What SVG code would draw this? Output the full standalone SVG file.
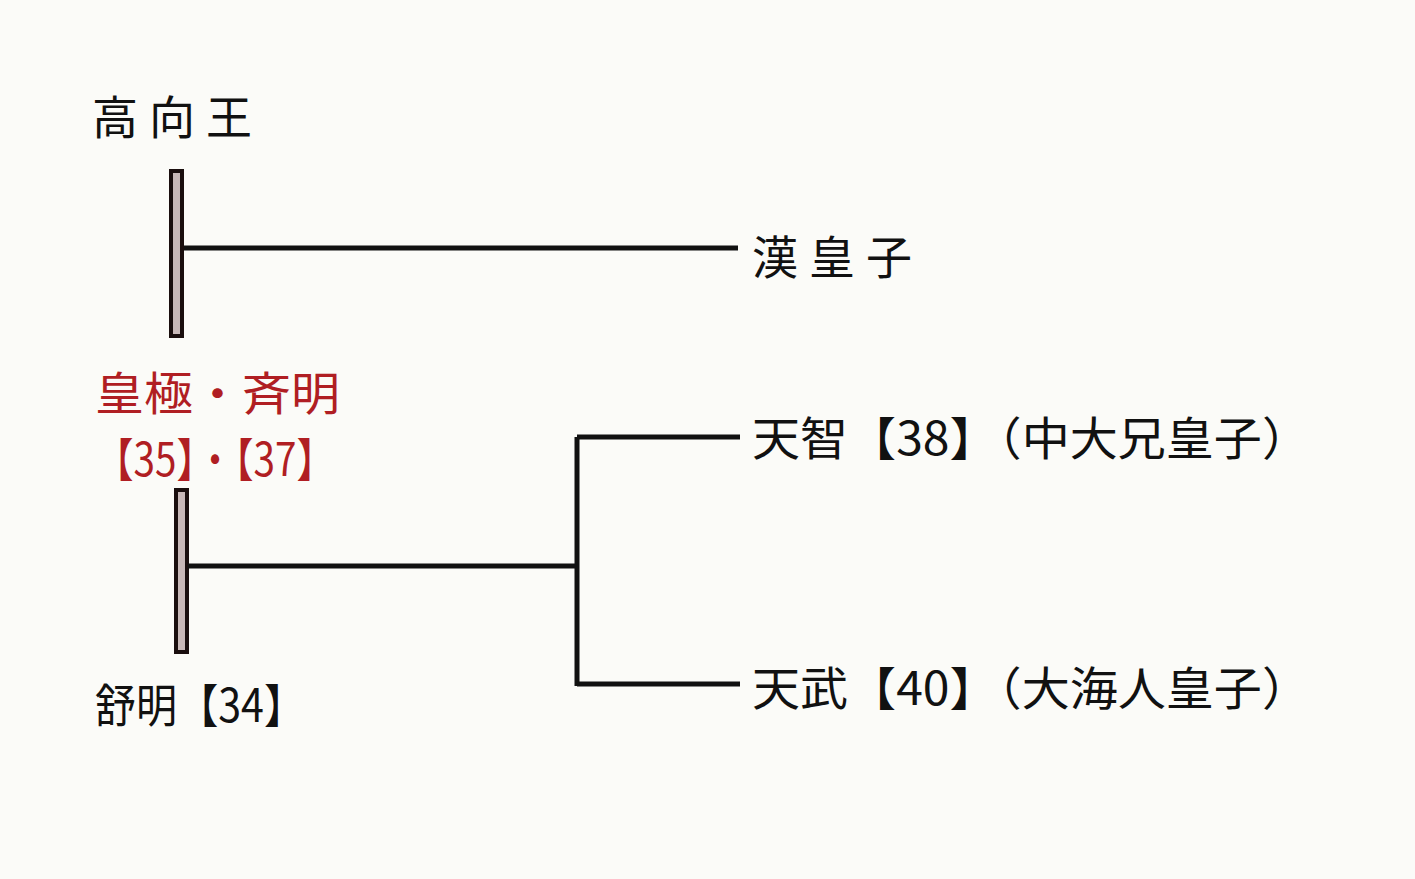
<svg xmlns="http://www.w3.org/2000/svg" width="1415" height="879" viewBox="0 0 1415 879">
<style>
text{font-family:"Noto Sans CJK JP","Noto Sans CJK SC",sans-serif;font-size:46px;fill:#111}
.red{fill:#b01e23}
.bar{fill:#c8b8b8;stroke:#1a0e0e;stroke-width:4}
.ln{stroke:#111;stroke-width:5;fill:none}
</style>
<rect width="1415" height="879" fill="#fbfbf8"/>
<g id="connectors">
<rect class="bar" x="171" y="171" width="11" height="165"/>
<rect class="bar" x="176" y="490" width="11" height="162"/>
<path class="ln" d="M184 248H738"/>
<path class="ln" d="M188 566H577M577 437V686M577 437H740M577 684H740"/>
</g>
<g id="n1"><text x="92" y="134" textLength="160">高向王</text></g>
<g id="n2"><text x="752" y="274" textLength="160">漢皇子</text></g>
<g id="n3"><text class="red" x="95" y="410" textLength="245" lengthAdjust="spacingAndGlyphs">皇極・斉明</text><text class="red" x="95" y="476" textLength="240" lengthAdjust="spacingAndGlyphs">【35】・【37】</text></g>
<g id="n4"><text x="752" y="455" textLength="558" lengthAdjust="spacingAndGlyphs">天智【38】（中大兄皇子）</text></g>
<g id="n5"><text x="752" y="705" textLength="558" lengthAdjust="spacingAndGlyphs">天武【40】（大海人皇子）</text></g>
<g id="n6"><text x="95" y="722" textLength="210" lengthAdjust="spacingAndGlyphs">舒明【34】</text></g>
</svg>
